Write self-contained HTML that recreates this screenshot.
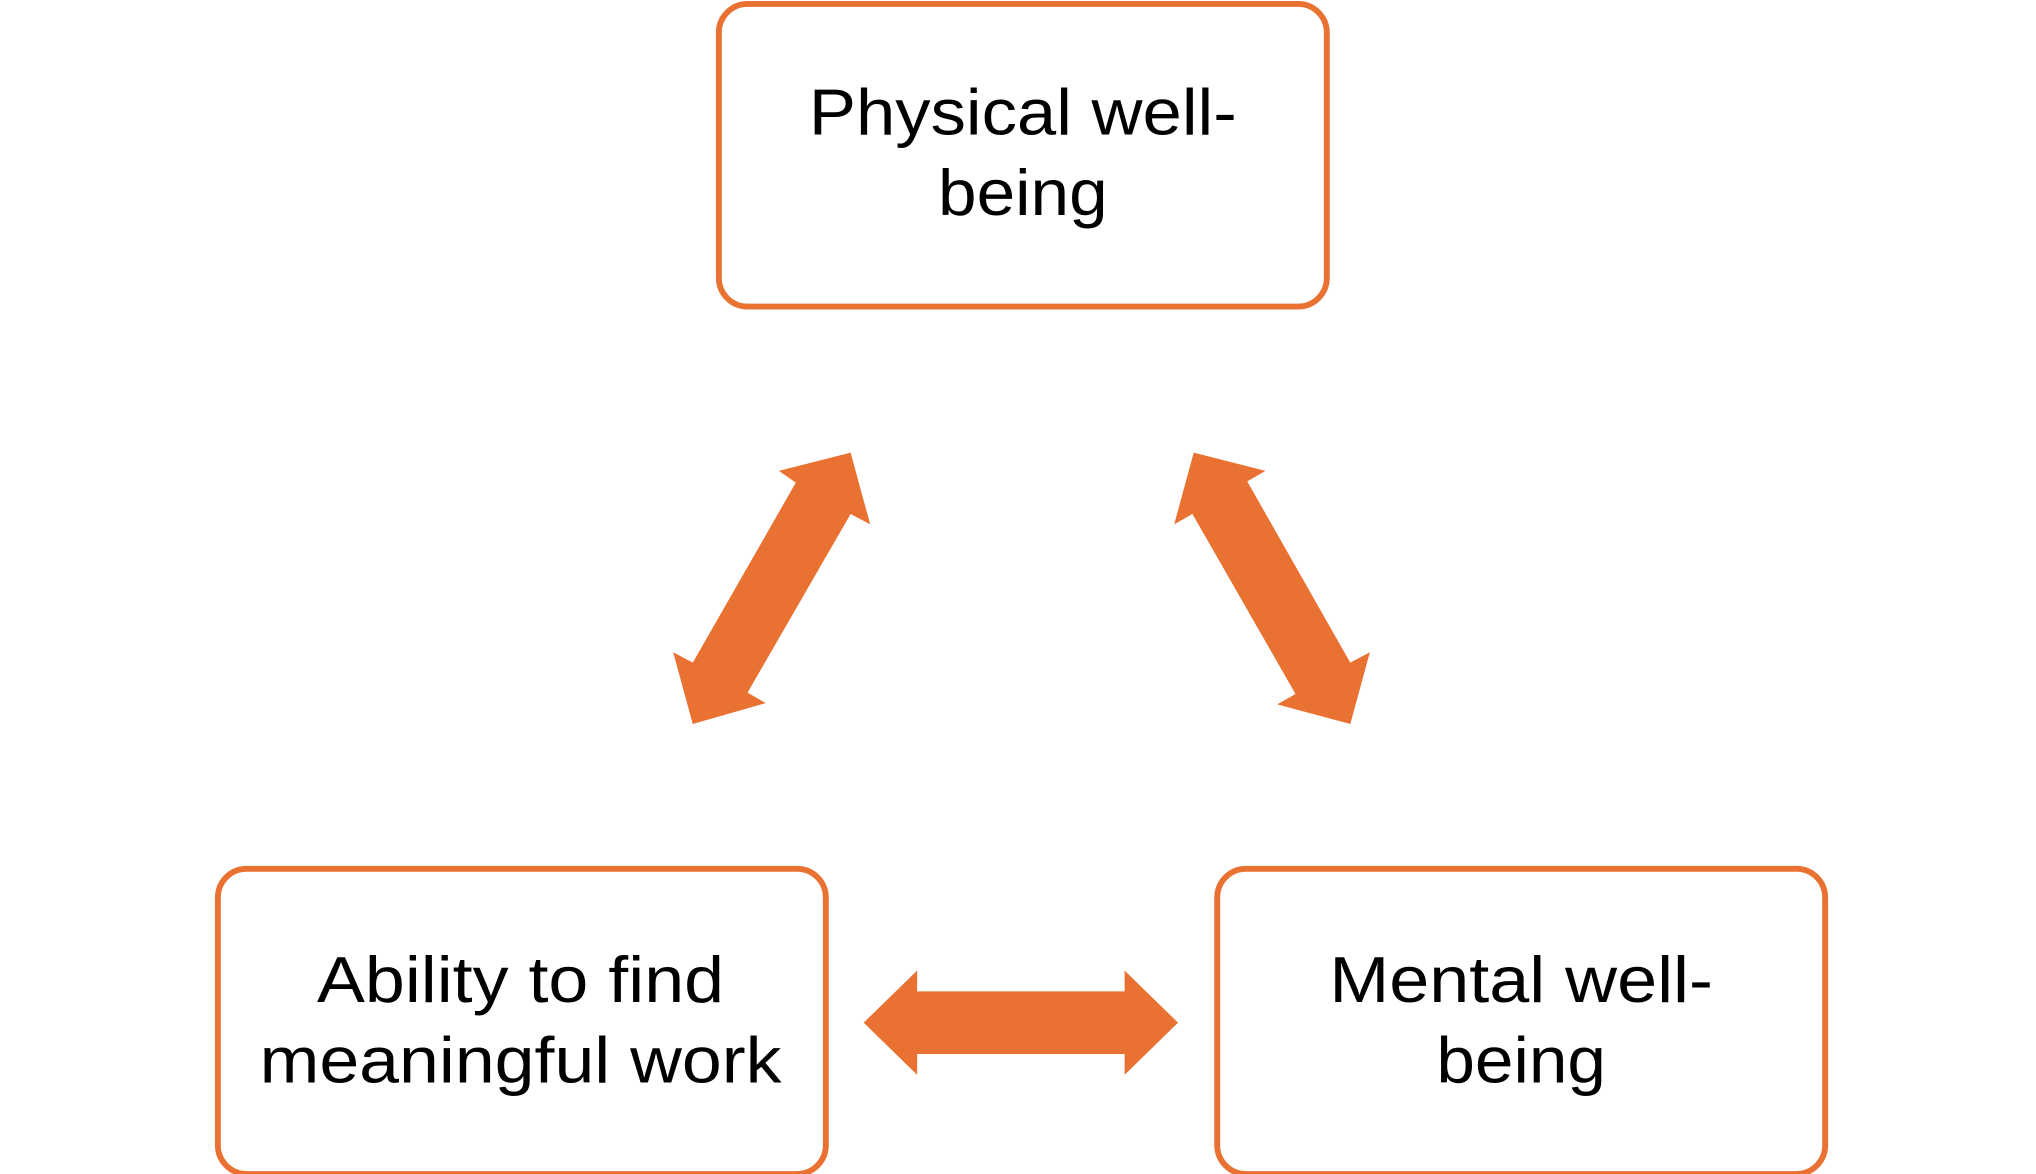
<!DOCTYPE html>
<html><head><meta charset="utf-8"><style>
html,body{margin:0;padding:0;background:#fff;}
svg{display:block;}
text{font-family:"Liberation Sans",sans-serif;fill:#000;}
</style></head><body>
<svg width="2036" height="1174" viewBox="0 0 1560.6 900" preserveAspectRatio="none" xmlns="http://www.w3.org/2000/svg">
<g fill="#fff" stroke="#E97132" stroke-width="4.5">
<rect x="551" y="3" width="466" height="232" rx="22"/>
<rect x="167" y="666" width="466" height="234" rx="22"/>
<rect x="933" y="666" width="466" height="234" rx="22"/>
</g>
<g fill="#E97132">
<polygon points="597,361 652,347 667,402 652,394 573,531 587,539 531,555 516,500 531,508 610,370"/>
<polygon points="915,347 970,361 956,369 1035,508 1050,500 1035,555 979,540 993,532 914,394 900,402"/>
<polygon points="662,784 703,744 703,760 862,760 862,744 903,784 862,824 862,808 703,808 703,824"/>
</g>
<g font-size="50" text-anchor="middle">
<text x="784" y="103" textLength="328" lengthAdjust="spacingAndGlyphs">Physical well-</text>
<text x="784" y="165" textLength="130" lengthAdjust="spacingAndGlyphs">being</text>
<text x="399" y="768" textLength="312" lengthAdjust="spacingAndGlyphs">Ability to find</text>
<text x="399" y="830" textLength="400" lengthAdjust="spacingAndGlyphs">meaningful work</text>
<text x="1166" y="768" textLength="294" lengthAdjust="spacingAndGlyphs">Mental well-</text>
<text x="1166" y="830" textLength="130" lengthAdjust="spacingAndGlyphs">being</text>
</g>
</svg>
</body></html>
